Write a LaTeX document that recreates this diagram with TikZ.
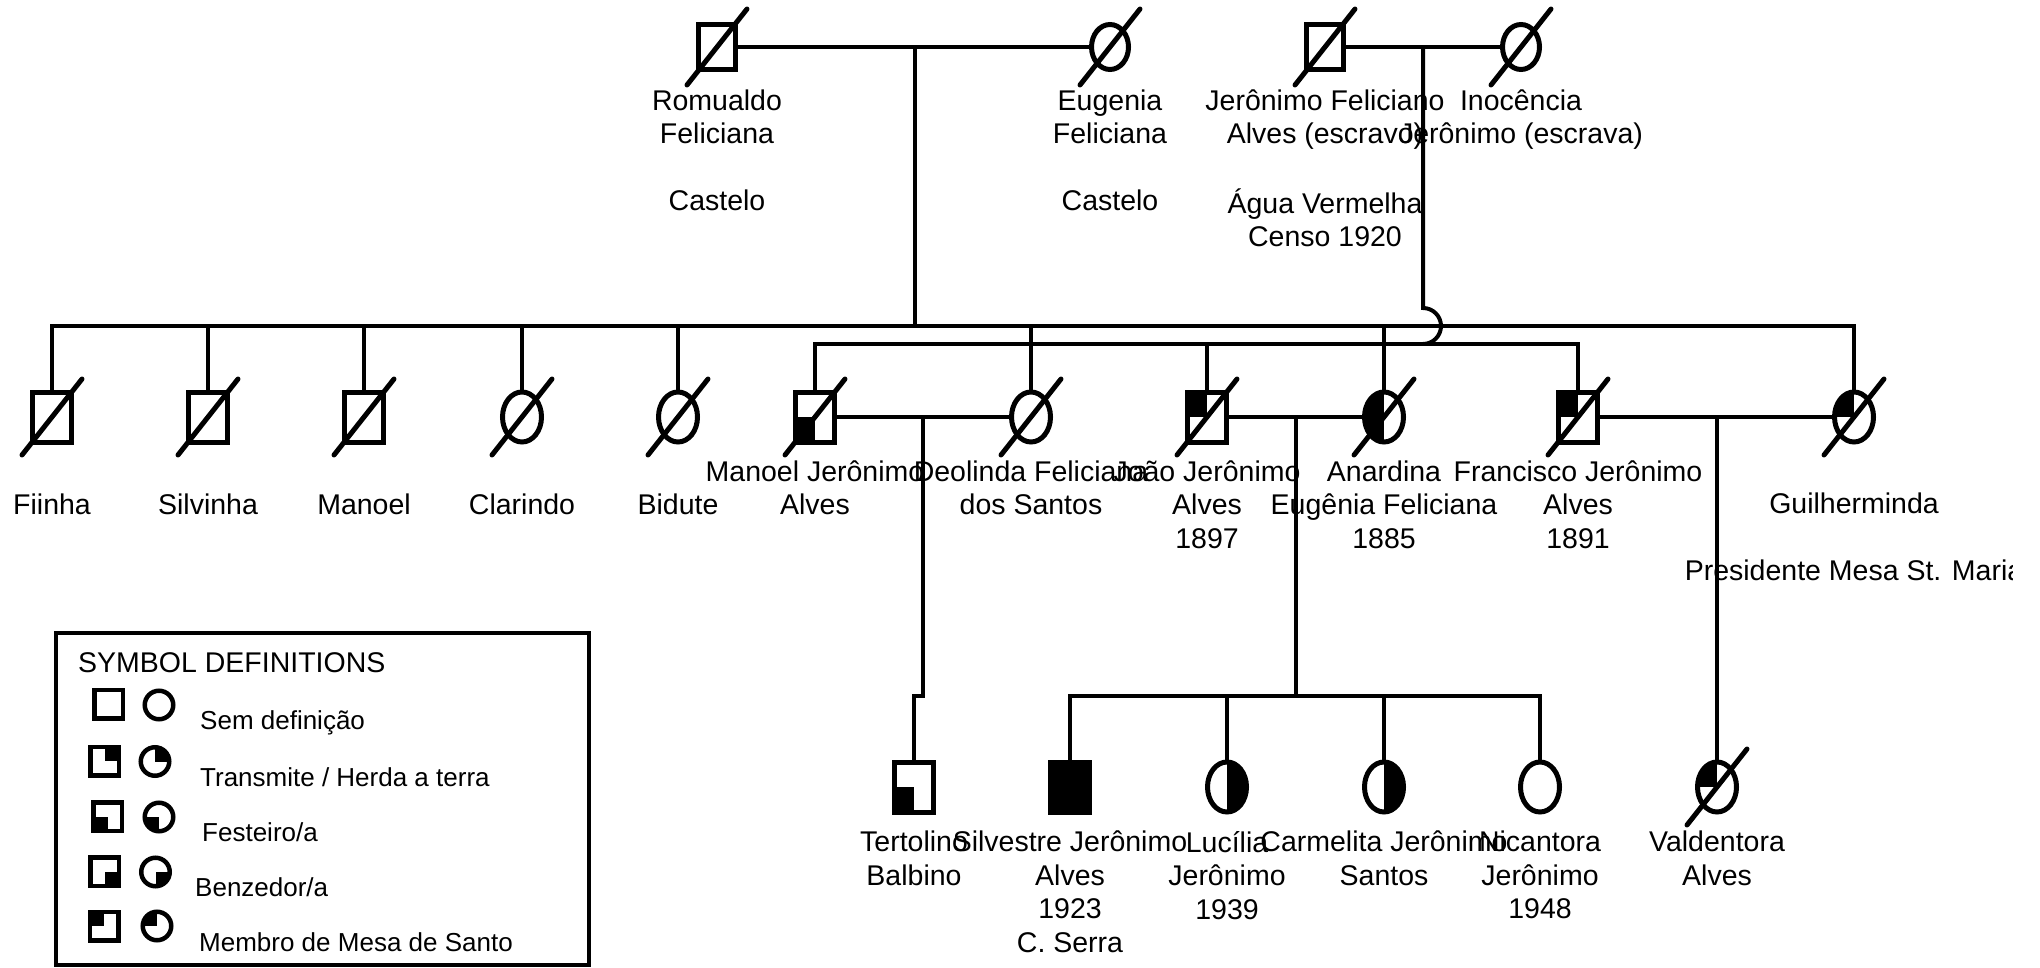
\documentclass[tikz,border=0pt]{standalone}
\usepackage{fontspec}
\setmainfont{Liberation Sans}
\usetikzlibrary{shapes.geometric}
\newcommand\deadmark[1]{\draw[slashline] ([shift={(-30,38)}]#1.center) -- ([shift={(30,-38)}]#1.center);}
\begin{document}
\begin{tikzpicture}[x=1pt,y=-1pt,
  sym/.style={draw, line width=5pt, inner sep=0pt, minimum width=39pt, minimum height=50pt},
  male/.style={sym, rectangle},
  female/.style={sym, ellipse},
  topsym/.style={minimum width=37pt, minimum height=45pt},
  lsym/.style={draw, line width=4.5pt, inner sep=0pt, minimum width=28.5pt, minimum height=28.5pt},
  lmale/.style={lsym, rectangle},
  lfemale/.style={lsym, ellipse},
  qTL/.style={path picture={\fill (path picture bounding box.center) rectangle (path picture bounding box.north west);}},
  qTR/.style={path picture={\fill (path picture bounding box.center) rectangle (path picture bounding box.north east);}},
  qBL/.style={path picture={\fill (path picture bounding box.center) rectangle (path picture bounding box.south west);}},
  qBR/.style={path picture={\fill (path picture bounding box.center) rectangle (path picture bounding box.south east);}},
  qL/.style={path picture={\fill (path picture bounding box.north) rectangle (path picture bounding box.south west);}},
  qR/.style={path picture={\fill (path picture bounding box.north) rectangle (path picture bounding box.south east);}},
  full/.style={fill=black},
  slashline/.style={line width=5pt, line cap=round},
  conn/.style={line width=4pt},
  lbl/.style={align=center, anchor=north, inner sep=0pt, font=\fontsize{28.5}{33.5}\selectfont, execute at begin node=\strut},
  ltxt/.style={anchor=base west, inner sep=0pt, font=\fontsize{26}{31}\selectfont},
]
\useasboundingbox (0,0) rectangle (2040,968);

% ---------- labels ----------
\node[lbl] (lromualdo) at (717,89.5) {Romualdo\\Feliciana\\\strut\\Castelo};
\node[lbl] (leugenia) at (1110,89.5) {Eugenia\\Feliciana\\\strut\\Castelo};
\node[lbl] (ljeronimo) at (1325,89.5) {Jerônimo Feliciano\\Alves (escravo)\\\strut\\Água Vermelha\\Censo 1920};
\node[lbl] (linocencia) at (1521,89.5) {Inocência\\Jerônimo (escrava)};

\node[lbl] (lfiinha) at (52,491) {Fiinha};
\node[lbl] (lsilvinha) at (208,491) {Silvinha};
\node[lbl] (lmanoel) at (364,491) {Manoel};
\node[lbl] (lclarindo) at (522,491) {Clarindo};
\node[lbl] (lbidute) at (678,491) {Bidute};
\node[lbl] (lmanoelj) at (815,460.5) {Manoel Jerônimo\\Alves};
\node[lbl] (ldeolinda) at (1031,460.5) {Deolinda Feliciana\\dos Santos};
\node[lbl] (ljoao) at (1207,460.5) {João Jerônimo\\Alves\\1897};
\node[lbl] (lanardina) at (1384,460.5) {Anardina\\Eugênia Feliciana\\1885};
\node[lbl] (lfrancisco) at (1578,460.5) {Francisco Jerônimo\\Alves\\1891};
\begin{scope}
\clip (1600,440) rectangle (2012,620);
\node[lbl] (lguilherminda) at (1854,493) {Guilherminda\\\strut\\Presidente Mesa St. Maria};
\end{scope}

\node[lbl] (ltertolino) at (914,831) {Tertolino\\Balbino};
\node[lbl] (lsilvestre) at (1070,831) {Silvestre Jerônimo\\Alves\\1923\\C. Serra};
\node[lbl] (llucilia) at (1227,831) {Lucília\\Jerônimo\\1939};
\node[lbl] (lcarmelita) at (1384,831) {Carmelita Jerônimo\\Santos};
\node[lbl] (lnicantora) at (1540,831) {Nicantora\\Jerônimo\\1948};
\node[lbl] (lvaldentora) at (1717,831) {Valdentora\\Alves};

% ---------- symbols ----------
\node[male,topsym] (romualdo) at (717,47) {};
\node[female,topsym] (eugenia) at (1110,47) {};
\node[male,topsym] (jeronimo) at (1325,47) {};
\node[female,topsym] (inocencia) at (1521,47) {};

\node[male] (fiinha) at (52,417) {};
\node[male] (silvinha) at (208,417) {};
\node[male] (manoel) at (364,417) {};
\node[female] (clarindo) at (522,417) {};
\node[female] (bidute) at (678,417) {};
\node[male,qBL] (manoelj) at (815,417) {};
\node[female] (deolinda) at (1031,417) {};
\node[male,qTL] (joao) at (1207,417) {};
\node[female,qL] (anardina) at (1384,417) {};
\node[male,qTL] (francisco) at (1578,417) {};
\node[female,qTL] (guilherminda) at (1854,417) {};

\node[male,qBL] (tertolino) at (914,787) {};
\node[male,full] (silvestre) at (1070,787) {};
\node[female,qR] (lucilia) at (1227,787) {};
\node[female,qR] (carmelita) at (1384,787) {};
\node[female] (nicantora) at (1540,787) {};
\node[female,qTL] (valdentora) at (1717,787) {};

\foreach \n in {romualdo,eugenia,jeronimo,inocencia,fiinha,silvinha,manoel,clarindo,bidute,manoelj,deolinda,joao,anardina,francisco,guilherminda,valdentora}{\deadmark{\n}}

% ---------- connectors ----------
\coordinate (sibA) at (0,326);
\coordinate (sibB) at (0,344);
\coordinate (sibC) at (0,696);
\coordinate (m1) at (915,47);
\coordinate (m2) at (1423,47);
\coordinate (m3) at (923,417);
\coordinate (m4) at (1296,417);
\coordinate (m5) at (1717,417);

\draw[conn] (romualdo.east) -- (eugenia.west);
\draw[conn] (jeronimo.east) -- (inocencia.west);
\draw[conn] (manoelj.east) -- (deolinda.west);
\draw[conn] (joao.east) -- (anardina.west);
\draw[conn] (francisco.east) -- (guilherminda.west);

\draw[conn] (m1) -- (m1 |- sibA);
\draw[conn] (m2) -- ++(0,261) arc[start angle=90, end angle=-90, radius=18pt];

\draw[conn, line cap=rect] (fiinha |- sibA) -- (guilherminda |- sibA);
\foreach \n in {fiinha,silvinha,manoel,clarindo,bidute,deolinda,anardina,guilherminda}{\draw[conn] (\n |- sibA) -- (\n.north);}

\draw[conn, line cap=rect] (manoelj |- sibB) -- (francisco |- sibB);
\foreach \n in {manoelj,joao,francisco}{\draw[conn] (\n |- sibB) -- (\n.north);}

\draw[conn] (m3) -- (m3 |- sibC) -| (tertolino.north);
\draw[conn] (m4) -- (m4 |- sibC);
\draw[conn, line cap=rect] (silvestre |- sibC) -- (nicantora |- sibC);
\foreach \n in {silvestre,lucilia,carmelita,nicantora}{\draw[conn] (\n |- sibC) -- (\n.north);}
\draw[conn] (m5) -- (valdentora.north);

% ---------- legend ----------
\draw[line width=3.5pt] (56,633) rectangle (589,965);
\node[anchor=base west, inner sep=0pt, font=\fontsize{28.5}{34}\selectfont] (ltitle) at (78,672) {SYMBOL DEFINITIONS};

\node[lmale] (ls1) at (108.5,704) {};
\node[lfemale] (lc1) at (159,705) {};
\node[ltxt] (lt1) at (200,729) {Sem definição};

\node[lmale,qTR] (ls2) at (104.5,761) {};
\node[lfemale,qTR] (lc2) at (155,761.5) {};
\node[ltxt] (lt2) at (200,786) {Transmite / Herda a terra};

\node[lmale,qBL] (ls3) at (107.5,816.5) {};
\node[lfemale,qBL] (lc3) at (159,817) {};
\node[ltxt] (lt3) at (202,841) {Festeiro/a};

\node[lmale,qBR] (ls4) at (104.5,871.5) {};
\node[lfemale,qBR] (lc4) at (155.5,872) {};
\node[ltxt] (lt4) at (195,896) {Benzedor/a};

\node[lmale,qTL] (ls5) at (104,926) {};
\node[lfemale,qTL] (lc5) at (157,926) {};
\node[ltxt] (lt5) at (199,951) {Membro de Mesa de Santo};
\end{tikzpicture}
\end{document}
